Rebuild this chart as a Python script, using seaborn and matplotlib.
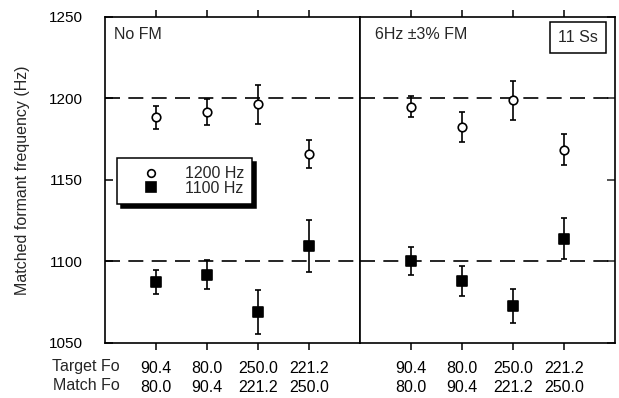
import numpy as np
import pandas as pd
import matplotlib
matplotlib.use("Agg")
import matplotlib.pyplot as plt
import seaborn as sns
from matplotlib.lines import Line2D

# ---- data ----
target_fo = ["90.4", "80.0", "250.0", "221.2"]
match_fo = ["80.0", "90.4", "221.2", "250.0"]
series_names = ["1200 Hz", "1100 Hz"]
panel_titles = ["No FM", "6Hz \u00b13% FM"]

nofm_1200 = [1188.5, 1191.5, 1196.5, 1166.0]
nofm_1200_err = [7.0, 8.0, 12.0, 8.5]
nofm_1100 = [1087.5, 1092.0, 1069.0, 1109.5]
nofm_1100_err = [7.5, 9.0, 13.5, 16.0]

fm_1200 = [1195.0, 1182.5, 1199.0, 1168.5]
fm_1200_err = [6.5, 9.0, 12.0, 9.5]
fm_1100 = [1100.5, 1088.0, 1072.5, 1114.0]
fm_1100_err = [8.5, 9.0, 10.5, 12.5]

reference_lines = [1100, 1200]
y_ticks = [1050, 1100, 1150, 1200, 1250]
subjects_note = "11 Ss"

# ---- style ----
sns.set_style("ticks")
plt.rcParams["font.family"] = ["Liberation Sans", "DejaVu Sans"]
plt.rcParams["axes.linewidth"] = 1.2

W, H = 619, 398
fig = plt.figure(figsize=(W / 100, H / 100), dpi=100)


def rect(l, t, r, b):
    return [l / W, 1 - b / H, (r - l) / W, (b - t) / H]


axL = fig.add_axes(rect(105, 17, 360, 343))
axR = fig.add_axes(rect(360, 17, 615, 343), sharey=axL)

panel_data = [
    (axL, nofm_1200, nofm_1200_err, nofm_1100, nofm_1100_err),
    (axR, fm_1200, fm_1200_err, fm_1100, fm_1100_err),
]

xlabels = [f"{t}\n{m}" for t, m in zip(target_fo, match_fo)]
lw = 1.2

for ax, m12, e12, m11, e11 in panel_data:
    n = len(target_fo)
    df = pd.DataFrame({
        "pos": np.concatenate([np.arange(n), np.arange(n)]),
        "freq": m12 + m11,
        "err": e12 + e11,
        "series": [series_names[0]] * n + [series_names[1]] * n,
    })
    for y in reference_lines:
        ax.axhline(y, color="black", lw=1.2, dashes=(9, 5), zorder=1)
    styles = {
        series_names[0]: dict(marker="o", s=38, color="white"),
        series_names[1]: dict(marker="s", s=56, color="black"),
    }
    for name in series_names:
        sub = df[df["series"] == name]
        ax.errorbar(sub["pos"], sub["freq"], yerr=sub["err"], fmt="none",
                    ecolor="black", elinewidth=lw, capsize=2.5, capthick=lw,
                    zorder=2)
        st = styles[name]
        sns.scatterplot(data=sub, x="pos", y="freq", marker=st["marker"],
                        s=st["s"], color=st["color"], edgecolor="black",
                        linewidth=lw, ax=ax, zorder=3, legend=False)
    ax.set_xlim(-1, n)
    ax.set_xticks(np.arange(n))
    ax.set_xticklabels(xlabels)
    for lbl in ax.get_xticklabels():
        lbl.set_linespacing(1.35)
    ax.set_xlabel("")
    ax.set_ylabel("")
    ax.tick_params(axis="x", direction="out", length=5, width=1.1, pad=8,
                   labelsize=11.5, top=True, bottom=True, colors="black")
    for sp in ax.spines.values():
        sp.set_visible(True)
        sp.set_color("black")
        sp.set_linewidth(1.2)

axL.set_ylim(1050, 1250)
axL.set_yticks(y_ticks)
axL.tick_params(axis="y", direction="in", length=6, width=1.1, pad=16,
                labelsize=11, left=True, right=False, colors="black")
axR.tick_params(axis="y", direction="in", length=6, width=1.1,
                left=False, right=True, labelleft=False, labelright=False)

axL.set_ylabel("Matched formant frequency (Hz)", fontsize=11.5)
axL.yaxis.set_label_coords(-0.295, 0.5)

axL.annotate("Target Fo\nMatch Fo", xy=(0.057, 0), xycoords="axes fraction",
             xytext=(0, -(5 / 1.389 + 8)), textcoords="offset points",
             ha="right", va="top", multialignment="right", fontsize=11.5,
             linespacing=1.35)

axL.text(0.035, 0.945, panel_titles[0], transform=axL.transAxes,
         ha="left", va="center", fontsize=11.5)
axR.text(0.059, 0.945, panel_titles[1], transform=axR.transAxes,
         ha="left", va="center", fontsize=11.5)
axR.text(0.855, 0.936, subjects_note, transform=axR.transAxes,
         ha="center", va="center", fontsize=11.5,
         bbox=dict(boxstyle="square,pad=0.5", fc="white", ec="black", lw=1.1))

handles = [
    Line2D([], [], marker="o", ls="none", mfc="white", mec="black", ms=5.5, mew=lw),
    Line2D([], [], marker="s", ls="none", mfc="black", mec="black", ms=7, mew=lw),
]
leg = axL.legend(handles, series_names, loc="upper left",
                 bbox_to_anchor=(0.047, 0.567), borderaxespad=0,
                 fontsize=11.5, frameon=True, fancybox=False,
                 handlelength=3.3, handletextpad=0.45, labelspacing=-0.02,
                 borderpad=0.5,
                 shadow={"ox": 3, "oy": -3, "color": "black", "alpha": 1})
leg.get_frame().set_edgecolor("black")
leg.get_frame().set_linewidth(1.1)
leg.get_frame().set_alpha(1)

fig.savefig("out.png", dpi=100)
